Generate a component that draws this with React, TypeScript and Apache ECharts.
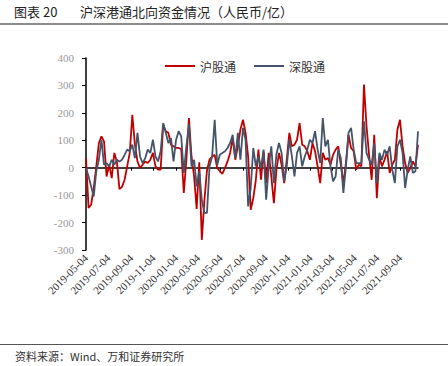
import React, { useEffect, useRef } from "react";
import * as echarts from "echarts";

const startDate = "2019-05-04";
const seriesNames = ["沪股通", "深股通"];
const tickLabels = [
  "2019-05-04", "2019-07-04", "2019-09-04", "2019-11-04", "2020-01-04",
  "2020-03-04", "2020-05-04", "2020-07-04", "2020-09-04", "2020-11-04",
  "2021-01-04", "2021-03-04", "2021-05-04", "2021-07-04", "2021-09-04",
];
const shData = [
  35, -147, -135, -74, 5, 90, 114, 96, -32, 11,
  -38, 54, 23, -78, -70, -44, 5, 54, 193, 84,
  23, -1, 11, 23, 17, 29, 54, 5, -7, -7,
  157, 133, 127, 84, 78, 72, 72, 68, -92, 29,
  181, 41, -32, -150, 20, -263, -120, -10, 30, 40,
  47, -1, -13, -22, -1, 23, 54, 108, 29, 78,
  139, 175, 127, 41, -153, -111, -44, 66, -44, 60,
  -56, 54, -32, -129, -7, 54, 11, -56, 29, 127,
  78, 84, 102, 163, 84, 78, 60, 29, 90, 60,
  5, -56, 54, 29, 35, 11, 47, 66, 78, 11,
  -56, 17, 120, 72, 60, -7, 11, 5, 303, 151,
  47, -44, 120, -111, 41, 5, 29, 60, -19, 11,
  29, 139, 175, 78, 17, -19, -1, 23, 5, 84,
];
const szData = [
  0, -32, -68, -105, -13, 29, 102, 11, 17, 5,
  29, 11, 29, 23, 29, 47, 66, 60, 84, 35,
  127, 41, 17, 35, 66, 54, 102, 41, 23, 60,
  163, 127, 90, 108, 23, 102, 133, 114, -19, 78,
  157, 5, 29, -68, -13, -117, -165, -165, 5, 41,
  175, 11, 47, 54, 60, 72, 90, 120, 35, 127,
  29, 145, 102, -141, -74, 72, 5, 41, -1, 66,
  -117, 5, 78, -56, 50, 90, 54, -50, 5, 102,
  41, -32, 54, 78, 5, 41, 66, 102, 90, 133,
  66, 17, 181, 78, 102, 5, -50, -32, 66, 35,
  -92, 5, 127, 145, 66, 17, 17, 17, 169, 54,
  29, 11, 90, -56, 54, 29, 66, 47, 78, -7,
  -56, 78, 102, 54, -74, -7, 41, -19, -13, 133,
];

const DAY = 86400000;
const toMs = (s: string) => {
  const [y, m, d] = s.split("-").map(Number);
  return Date.UTC(y, m - 1, d);
};
const fmt = (v: number) => new Date(v).toISOString().slice(0, 10);

export default function App() {
  const ref = useRef<HTMLDivElement>(null);
  useEffect(() => {
    if (!ref.current) return;
    const chart = echarts.init(ref.current, null, { renderer: "svg" });
    const t0 = toMs(startDate);
    const dates = shData.map((_, i) => t0 + i * 7 * DAY);
    const tickVals = tickLabels.map(toMs);
    const serif = "'Liberation Serif', 'Times New Roman', serif";
    const cjk = "'Noto Sans CJK SC', sans-serif";
    chart.setOption({
      animation: false,
      backgroundColor: "#ffffff",
      graphic: [
        {
          type: "text",
          left: 14,
          top: 5,
          style: { text: "图表 20", font: `13px ${cjk}`, fill: "#222" },
        },
        {
          type: "text",
          left: 80,
          top: 5,
          style: { text: "沪深港通北向资金情况（人民币/亿）", font: `13px ${cjk}`, fill: "#222" },
        },
        {
          type: "rect",
          shape: { x: 0, y: 23, width: 448, height: 2 },
          style: { fill: "#8c8c8c" },
        },
        {
          type: "rect",
          shape: { x: 0, y: 344, width: 448, height: 1 },
          style: { fill: "#555" },
        },
        {
          type: "text",
          left: 15,
          top: 350,
          style: { text: "资料来源：Wind、万和证券研究所", font: `11px ${cjk}`, fill: "#333" },
        },
      ],
      legend: {
        top: 55,
        left: 160,
        itemWidth: 30,
        itemHeight: 2,
        itemGap: 18,
        icon: "rect",
        textStyle: { fontFamily: cjk, fontSize: 12, color: "#333" },
        data: seriesNames,
      },
      grid: { left: 86, right: 30, top: 58, bottom: 116, containLabel: false },
      xAxis: [
        {
          type: "value",
          min: dates[0],
          max: dates[dates.length - 1],
          position: "bottom",
          axisLine: { show: false, onZero: false },
          axisTick: { show: false },
          splitLine: { show: false },
          axisLabel: {
            customValues: tickVals,
            formatter: (v: number) => fmt(v),
            rotate: 45,
            fontFamily: serif,
            fontSize: 11,
            color: "#333",
            margin: 6,
          },
        },
        {
          type: "value",
          min: dates[0],
          max: dates[dates.length - 1],
          position: "bottom",
          axisLine: { show: true, onZero: true, lineStyle: { color: "#000", width: 1.5 } },
          axisTick: { show: true, customValues: tickVals, length: 3, lineStyle: { color: "#000" } },
          axisLabel: { show: false },
          splitLine: { show: false },
        },
      ],
      yAxis: {
        type: "value",
        min: -300,
        max: 400,
        interval: 100,
        axisLine: { show: true, lineStyle: { color: "#000", width: 1.5 } },
        axisTick: { show: true, length: 4, lineStyle: { color: "#000" } },
        splitLine: { show: false },
        axisLabel: { fontFamily: serif, fontSize: 11, color: "#999", margin: 12 },
      },
      series: [
        {
          name: seriesNames[0],
          type: "line",
          xAxisIndex: 0,
          data: dates.map((d, i) => [d, shData[i]]),
          symbol: "none",
          lineStyle: { color: "#c00000", width: 1.8 },
          itemStyle: { color: "#c00000" },
        },
        {
          name: seriesNames[1],
          type: "line",
          xAxisIndex: 0,
          data: dates.map((d, i) => [d, szData[i]]),
          symbol: "none",
          lineStyle: { color: "#44546a", width: 1.8 },
          itemStyle: { color: "#44546a" },
        },
      ],
    });
    return () => chart.dispose();
  }, []);
  return (
    <div
      ref={ref}
      style={{ position: "absolute", left: 0, top: 0, width: 448, height: 366 }}
    />
  );
}
